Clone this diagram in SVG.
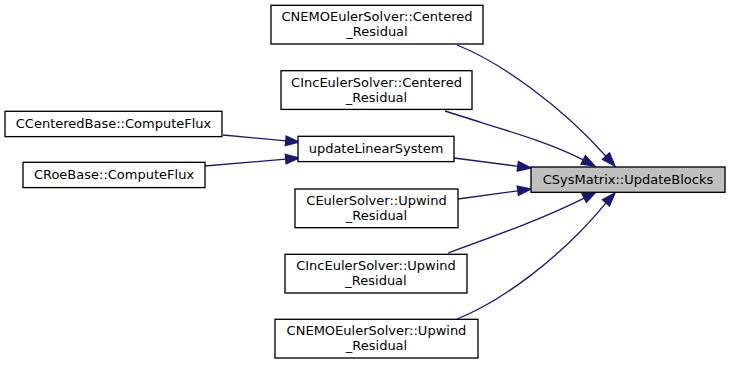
<svg xmlns="http://www.w3.org/2000/svg" width="731" height="365" viewBox="0 0 731 365">
  <style>
    .node rect { fill: #ffffff; stroke: #000000; stroke-width: 1.33; }
    .node.root rect { fill: #bfbfbf; }
    .node text { font-family: "DejaVu Sans", "Liberation Sans", sans-serif; font-size: 13px; fill: #000000; text-anchor: middle; }
    .edge path { fill: none; stroke: #191970; stroke-width: 1.33; }
    .edge polygon { fill: #191970; stroke: #191970; stroke-width: 1.33; }
  </style>
  <rect x="0" y="0" width="731" height="365" fill="#ffffff"/>

  <!-- call edges -->
  <g id="edges">
    <g class="edge">
      <path d="M457,45 C500,62 560,105 606,156.2"/>
      <polygon points="602.5,159.4 615,166 609.5,153"/>
    </g>
    <g class="edge">
      <path d="M445,111 C490,126 545,140 583.2,159.9"/>
      <polygon points="581,164.1 595,166 585.4,155.7"/>
    </g>
    <g class="edge">
      <path d="M454,158 L517.8,166.3"/>
      <polygon points="517.2,171 531,168 518.4,161.6"/>
    </g>
    <g class="edge">
      <path d="M458,199 L517.8,190.8"/>
      <polygon points="518.4,195.5 531,189 517.2,186.1"/>
    </g>
    <g class="edge">
      <path d="M448,253 C492,237 545,218 584.2,198.1"/>
      <polygon points="586.4,202.3 596,192 582,193.9"/>
    </g>
    <g class="edge">
      <path d="M457,319 C500,302 560,259 606,202.8"/>
      <polygon points="609.5,206 615,193 602.5,199.6"/>
    </g>
    <g class="edge">
      <path d="M223,135 L285.8,140.8"/>
      <polygon points="285.3,145.5 299,142 286.2,136.1"/>
    </g>
    <g class="edge">
      <path d="M205,166 L285.7,159.1"/>
      <polygon points="286.1,163.8 299,158 285.3,154.4"/>
    </g>
  </g>

  <!-- function nodes -->
  <g id="node_updateblocks" class="node root">
    <rect x="531" y="167" width="194" height="25.3"/>
    <text x="628" y="183.5">CSysMatrix::UpdateBlocks</text>
  </g>
  <g id="node_nemo_centered" class="node">
    <rect x="271" y="5.3" width="212" height="38.7"/>
    <text x="377" y="21.3">CNEMOEulerSolver::Centered</text>
    <text x="377" y="36.3">_Residual</text>
  </g>
  <g id="node_inc_centered" class="node">
    <rect x="281" y="70.7" width="191" height="38.7"/>
    <text x="376.5" y="86.7">CIncEulerSolver::Centered</text>
    <text x="376.5" y="101.7">_Residual</text>
  </g>
  <g id="node_update_linear_system" class="node">
    <rect x="298" y="136.3" width="156" height="25.3"/>
    <text x="376" y="152.8">updateLinearSystem</text>
  </g>
  <g id="node_euler_upwind" class="node">
    <rect x="295" y="189" width="163" height="38.7"/>
    <text x="376.5" y="205">CEulerSolver::Upwind</text>
    <text x="376.5" y="220">_Residual</text>
  </g>
  <g id="node_inc_upwind" class="node">
    <rect x="285" y="254.3" width="182" height="38.7"/>
    <text x="376" y="270.3">CIncEulerSolver::Upwind</text>
    <text x="376" y="285.3">_Residual</text>
  </g>
  <g id="node_nemo_upwind" class="node">
    <rect x="275" y="319.3" width="203" height="38.7"/>
    <text x="376.5" y="335.3">CNEMOEulerSolver::Upwind</text>
    <text x="376.5" y="350.3">_Residual</text>
  </g>
  <g id="node_centered_base" class="node">
    <rect x="5" y="111.3" width="217" height="25.3"/>
    <text x="113.5" y="127.8">CCenteredBase::ComputeFlux</text>
  </g>
  <g id="node_roe_base" class="node">
    <rect x="23" y="162.3" width="182" height="25.3"/>
    <text x="114" y="178.8">CRoeBase::ComputeFlux</text>
  </g>
</svg>
